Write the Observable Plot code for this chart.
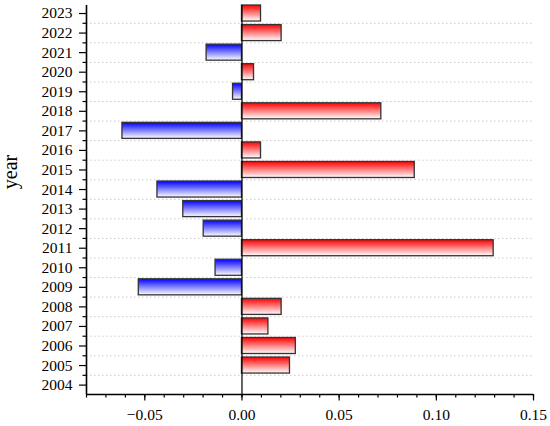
<!DOCTYPE html>
<html>
<head>
<meta charset="utf-8">
<script src="https://cdn.jsdelivr.net/npm/d3@7"></script>
<script src="https://cdn.jsdelivr.net/npm/@observablehq/plot@0.6"></script>
<style>
  html, body { margin: 0; padding: 0; background: #fff; }
  #chart { width: 550px; height: 426px; }
  #chart svg text { font-family: "Liberation Serif", "Times New Roman", serif !important; font-size: 15.5px; fill: #000; }
  #chart svg text.ylab { font-size: 20px !important; }
</style>
</head>
<body>
<div id="chart"></div>
<script>
const years = [2004, 2005, 2006, 2007, 2008, 2009, 2010, 2011, 2012, 2013,
               2014, 2015, 2016, 2017, 2018, 2019, 2020, 2021, 2022, 2023];
const values = [0, 0.0247, 0.0277, 0.0136, 0.0204, -0.0531, -0.0136, 0.1295, -0.0197, -0.0302,
                -0.0435, 0.0889, 0.0098, -0.0615, 0.0717, -0.0046, 0.0062, -0.0182, 0.0204, 0.0098];
const xMajorTicks = [-0.05, 0, 0.05, 0.10, 0.15];
const xMinorTicks = [-0.08, -0.07, -0.06, -0.05, -0.04, -0.03, -0.02, -0.01, 0, 0.01, 0.02, 0.03, 0.04,
                     0.05, 0.06, 0.07, 0.08, 0.09, 0.10, 0.11, 0.12, 0.13, 0.14, 0.15];
const yLabel = "year";

const data = years.map((year, i) => ({year, v: values[i]}));
const pos = data.filter(d => d.v > 0);
const neg = data.filter(d => d.v < 0);
const yMinor = years.slice(0, -1).map(y => y + 0.5);
const half = 0.41;
const font = "Liberation Serif";

const defs = () => {
  const g = d3.create("svg:defs");
  const mk = (id, c) => {
    const lg = g.append("linearGradient").attr("id", id)
      .attr("x1", 0).attr("y1", 0).attr("x2", 0).attr("y2", 1);
    lg.append("stop").attr("offset", "0%").attr("stop-color", c);
    lg.append("stop").attr("offset", "100%").attr("stop-color", "#ffffff");
  };
  mk("gRed", "#ff0000");
  mk("gBlue", "#0000ff");
  return g.node();
};

const chart = Plot.plot({
  width: 550,
  height: 426,
  marginLeft: 86,
  marginRight: 17,
  marginTop: 5,
  marginBottom: 32,
  style: {fontFamily: font, fontSize: "15.5px", background: "#fff", color: "#000"},
  x: {domain: [-0.08, 0.15], axis: null},
  y: {domain: [2003.52, 2023.41], axis: null},
  marks: [
    defs,
    Plot.ruleY(yMinor, {stroke: "#c8c8c8", strokeDasharray: "1.5,2.5", strokeWidth: 1}),
    Plot.rectX(pos, {x1: 0, x2: "v", y1: d => d.year - half, y2: d => d.year + half,
      fill: "url(#gRed)", stroke: "#333", strokeWidth: 1.3}),
    Plot.rectX(neg, {x1: 0, x2: "v", y1: d => d.year - half, y2: d => d.year + half,
      fill: "url(#gBlue)", stroke: "#333", strokeWidth: 1.3}),
    Plot.ruleX([0], {stroke: "#000", strokeWidth: 1.2}),
    Plot.axisX({ticks: xMinorTicks, tickFormat: () => "", tickSize: 3.5, stroke: "#000", strokeWidth: 1.2, label: null}),
    Plot.axisX({ticks: xMajorTicks, tickFormat: d3.format(".2f"), tickSize: 6.5, tickPadding: 8,
      fontSize: 15.5, fontFamily: font, fill: "#000", stroke: "#000", strokeWidth: 1.2, label: null}),
    Plot.axisY({ticks: yMinor, tickFormat: () => "", tickSize: 3.5, stroke: "#000", strokeWidth: 1.2, label: null}),
    Plot.axisY({ticks: years, tickFormat: d3.format("d"), tickSize: 7, tickPadding: 7,
      fontSize: 15.5, fontFamily: font, fill: "#000", stroke: "#000", strokeWidth: 1.2, label: null}),
    Plot.ruleX([-0.08], {stroke: "#000", strokeWidth: 1.6}),
    Plot.ruleY([2003.52], {stroke: "#000", strokeWidth: 1.6})
  ]
});

d3.select(chart).append("text")
  .attr("class", "ylab")
  .attr("transform", "translate(17,172) rotate(-90)")
  .attr("text-anchor", "middle")
  .attr("font-family", font)
  .attr("font-size", 20)
  .attr("fill", "#000")
  .text(yLabel);

document.getElementById("chart").appendChild(chart);
</script>
</body>
</html>
